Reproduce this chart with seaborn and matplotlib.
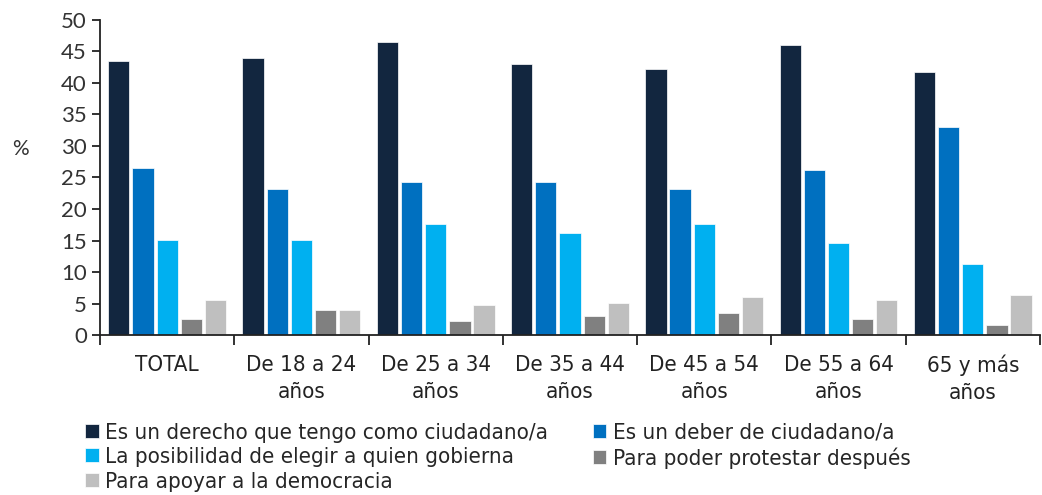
import pandas as pd
import numpy as np
import seaborn as sns
import matplotlib.pyplot as plt

# values (%)
grupos = ['TOTAL', 'De 18 a 24\naños', 'De 25 a 34\naños', 'De 35 a 44\naños',
          'De 45 a 54\naños', 'De 55 a 64\naños', '65 y más\naños']
motivos = ['Es un derecho que tengo como ciudadano/a',
           'Es un deber de ciudadano/a',
           'La posibilidad de elegir a quien gobierna',
           'Para poder protestar después',
           'Para apoyar a la democracia']
derecho = [43.5, 44.0, 46.5, 43.0, 42.2, 46.0, 41.7]
deber = [26.5, 23.2, 24.3, 24.3, 23.2, 26.2, 33.0]
elegir = [15.1, 15.1, 17.6, 16.2, 17.6, 14.6, 11.3]
protestar = [2.5, 4.0, 2.2, 3.0, 3.5, 2.5, 1.6]
democracia = [5.6, 4.0, 4.8, 5.1, 6.0, 5.6, 6.3]

colores = ['#12263F', '#0070C0', '#00B0F0', '#808080', '#BFBFBF']

# long format for seaborn
series = [derecho, deber, elegir, protestar, democracia]
df = pd.concat([pd.DataFrame({'grupo': grupos, 'motivo': m, 'valor': v})
                for m, v in zip(motivos, series)])

sns.set_style('white')
plt.rcParams['font.family'] = ['DejaVu Sans']
plt.rcParams['font.stretch'] = 'condensed'

fig, ax = plt.subplots(figsize=(10.42, 4.95), dpi=100)
fig.subplots_adjust(left=0.096, right=0.998, top=0.96, bottom=0.323)

sns.barplot(data=df, x='grupo', y='valor', hue='motivo', hue_order=motivos,
            palette=colores, width=0.9, gap=0.12, saturation=1,
            edgecolor='white', linewidth=0.5, ax=ax)

ax.set_ylim(0, 50)
ax.set_xlim(-0.5, 6.5)
ax.set_yticks(np.arange(0, 51, 5))
ax.set_xlabel('')
ax.set_ylabel('%', rotation=0, fontsize=15, family='Lato', color='#333333')
ax.yaxis.set_label_coords(-0.085, 0.56)

for s in ['top', 'right']:
    ax.spines[s].set_visible(False)
for s in ['left', 'bottom']:
    ax.spines[s].set_color('#222222')
    ax.spines[s].set_linewidth(1.3)

# tick marks at group boundaries, labels at centres
ax.set_xticks(np.arange(-0.5, 7, 1), minor=True)
ax.tick_params(axis='x', which='major', length=0, labelsize=16,
               colors='#222222', pad=14)
ax.tick_params(axis='x', which='minor', length=7, width=1.3, color='#222222',
               direction='out', bottom=True)
ax.tick_params(axis='y', length=6, width=1.3, color='#222222', left=True,
               direction='out', labelsize=16, labelcolor='#333333')
for lbl in ax.get_xticklabels():
    lbl.set_linespacing(1.45)
for lbl in ax.get_yticklabels():
    lbl.set_family('Lato')
    lbl.set_stretch('normal')

# legend filled row by row, as in the reference
handles, labels = ax.get_legend_handles_labels()
orden = [0, 2, 4, 1, 3]
ax.legend([handles[i] for i in orden], [labels[i] for i in orden],
          loc='upper left', bbox_to_anchor=(-0.025, -0.25), ncol=2,
          frameon=False, fontsize=16, handlelength=0.6, handleheight=0.6,
          handletextpad=0.3, columnspacing=2.0, labelspacing=0.2,
          borderaxespad=0)

fig.savefig('out.png', dpi=100)
